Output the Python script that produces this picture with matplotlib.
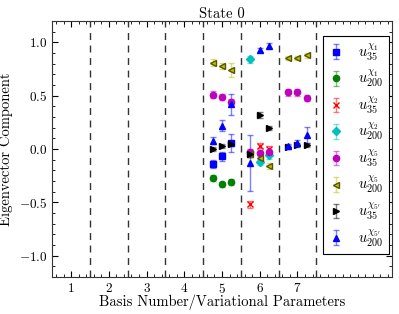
import matplotlib
matplotlib.use("Agg")
import matplotlib.pyplot as plt
from matplotlib.ticker import AutoMinorLocator, MultipleLocator

plt.rcParams['font.family'] = 'serif'
plt.rcParams['font.serif'] = ['cmr10', 'DejaVu Serif']
plt.rcParams['mathtext.fontset'] = 'cm'
plt.rcParams['axes.formatter.use_mathtext'] = True
plt.rcParams['axes.unicode_minus'] = True

# ---- data ----
x_b5 = [4.75, 5.0, 5.25]
x_b6 = [5.75, 6.0, 6.25]
x_all = [4.75, 5.0, 5.25, 5.75, 6.0, 6.25, 6.75, 7.0, 7.25]

chi1_35_y = [-0.14, -0.07, 0.056]
chi1_35_e = [0.04, 0.04, 0.08]
chi1_200_y = [-0.27, -0.33, -0.31]
chi1_200_e = [0.03, 0.025, 0.025]

chi2_35_y = [-0.52, 0.03, 0.0]
chi2_35_e = [0.03, 0.025, 0.025]
chi2_200_y = [0.84, -0.12, -0.06]
chi2_200_e = [0.03, 0.03, 0.03]

chi5_35_y = [0.51, 0.49, 0.44, -0.03, -0.04, -0.03, 0.53, 0.53, 0.48]
chi5_35_e = [0.03, 0.03, 0.03, 0.03, 0.03, 0.03, 0.03, 0.03, 0.03]
chi5_200_y = [0.81, 0.78, 0.74, -0.05, -0.08, -0.16, 0.853, 0.853, 0.877]
chi5_200_e = [0.03, 0.03, 0.065, 0.03, 0.03, 0.03, 0.02, 0.02, 0.02]

chi5p_35_y = [0.0, 0.03, 0.05, -0.045, 0.32, 0.20, 0.02, 0.04, 0.04]
chi5p_35_e = [0.02, 0.02, 0.02, 0.03, 0.03, 0.02, 0.02, 0.02, 0.02]
chi5p_200_y = [0.078, 0.22, 0.42, -0.13, 0.93, 0.97, 0.025, 0.056, 0.134]
chi5p_200_e = [0.03, 0.05, 0.10, 0.265, 0.02, 0.02, 0.02, 0.03, 0.075]

xticks = [1, 2, 3, 4, 5, 6, 7]
dividers = [1.5, 2.5, 3.5, 4.5, 5.5, 6.5, 7.5]

series = [
    (x_b5, chi1_35_y, chi1_35_e, 'b', 's', r'$u^{\chi_1}_{35}$'),
    (x_b5, chi1_200_y, chi1_200_e, 'g', 'o', r'$u^{\chi_1}_{200}$'),
    (x_b6, chi2_35_y, chi2_35_e, 'r', 'x', r'$u^{\chi_2}_{35}$'),
    (x_b6, chi2_200_y, chi2_200_e, 'c', 'D', r'$u^{\chi_2}_{200}$'),
    (x_all, chi5_35_y, chi5_35_e, 'm', 'o', r'$u^{\chi_5}_{35}$'),
    (x_all, chi5_200_y, chi5_200_e, 'y', '<', r'$u^{\chi_5}_{200}$'),
    (x_all, chi5p_35_y, chi5p_35_e, 'k', '>', r"$u^{\chi_{5'}}_{35}$"),
    (x_all, chi5p_200_y, chi5p_200_e, 'b', '^', r"$u^{\chi_{5'}}_{200}$"),
]

fig = plt.figure(figsize=(3.99, 3.14), dpi=100)
ax = fig.add_axes([0.131, 0.118, 0.851, 0.815])

for xd in dividers:
    ax.axvline(xd, color='#333333', ls=(0, (5, 4)), lw=1.0, zorder=1)

for xs, ys, es, col, mk, lab in series:
    eb = ax.errorbar(xs, ys, yerr=es, fmt=mk, color=col, ecolor=col,
                     ms=4.5, mec=col if col != 'y' else '#555500',
                     capsize=2.5, elinewidth=1.0, capthick=1.0, label=lab, zorder=3)
    for part in eb[1] + eb[2]:
        part.set_alpha(0.5)

ax.set_xlim(0.5, 9.5)
ax.set_ylim(-1.2, 1.2)
ax.set_xticks(xticks)
ax.yaxis.set_major_locator(MultipleLocator(0.5))
ax.xaxis.set_minor_locator(MultipleLocator(0.2))
ax.yaxis.set_minor_locator(AutoMinorLocator(5))
ax.tick_params(which='both', direction='in', top=True, right=True, labelsize=9.5)
ax.tick_params(which='major', length=4)
ax.tick_params(which='minor', length=2)
for s in ax.spines.values():
    s.set_color('#333333')

ax.set_title('State 0', fontsize=10.5, pad=2)
ax.set_xlabel('Basis Number/Variational Parameters', fontsize=10.5, labelpad=-1)
ax.set_ylabel('Eigenvector Component', fontsize=10.5)

leg = ax.legend(loc='upper right', bbox_to_anchor=(0.991, 0.941), fontsize=10.5,
                fancybox=False, edgecolor='k', framealpha=1, borderaxespad=0,
                labelspacing=0.4, handlelength=1.0, handletextpad=1.0, borderpad=0.4)
leg.get_frame().set_linewidth(0.8)

fig.savefig('out.png', dpi=100)
